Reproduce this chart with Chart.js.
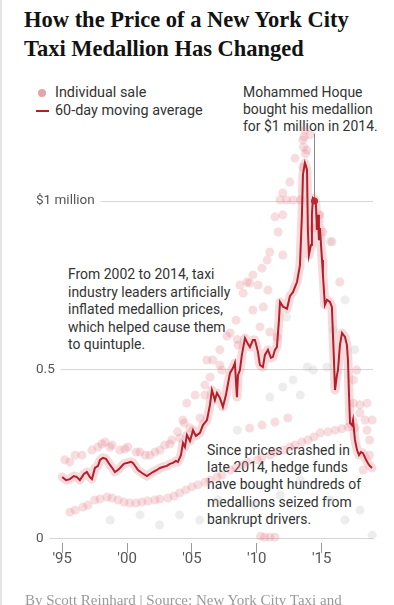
<!DOCTYPE html>
<html>
<head>
<meta charset="utf-8">
<script src="https://cdn.jsdelivr.net/npm/chart.js@4/dist/chart.umd.min.js"></script>
<style>
  html, body { margin: 0; padding: 0; background: #fff; }
  body { width: 394px; height: 605px; position: relative; overflow: hidden; }
  #chart { position: absolute; left: 0; top: 0; }
  .edge { position: absolute; left: 0; top: 0; width: 2px; height: 605px; background: #e4e4e4; }
  .title { position: absolute; left: 24px; top: 5px; font: bold 22.5px/29px "Liberation Serif", serif; color: #121212; white-space: nowrap; }
  .note { position: absolute; font: 15px/17px Roboto, sans-serif; color: #333; white-space: nowrap;
          transform: scaleX(0.93); transform-origin: left top;
          text-shadow: 0 0 3px #fff, 0 0 3px #fff, 0 0 2px #fff; }
  .legend { position: absolute; left: 36px; top: 84px; font: 15px/17.5px Roboto, sans-serif; color: #333; }
  .legend div { position: relative; padding-left: 19px; white-space: nowrap; }
  .legend span.txt { display: inline-block; transform: scaleX(0.96); transform-origin: left top; }
  .dot { position: absolute; left: 2px; top: 5px; width: 8px; height: 8px; border-radius: 50%; background: #e6a3ac; }
  .dash { position: absolute; left: 0; top: 8px; width: 13px; height: 2px; background: #b3202a; }
  .footer { position: absolute; left: 25px; top: 591px; font: 15px/18px "Liberation Serif", serif; color: #999; white-space: nowrap; }
</style>
</head>
<body>
<div class="edge"></div>
<div class="title">How the Price of a New York City<br>Taxi Medallion Has Changed</div>
<div class="legend">
  <div><span class="dot"></span><span class="txt">Individual sale</span></div>
  <div><span class="dash"></span><span class="txt">60-day moving average</span></div>
</div>
<div class="note" style="left:243px; top:84px;">Mohammed Hoque<br>bought his medallion<br>for $1 million in 2014.</div>
<div class="note" style="left:68px; top:266px; line-height:17.5px;">From 2002 to 2014, taxi<br>industry leaders artificially<br>inflated medallion prices,<br>which helped cause them<br>to quintuple.</div>
<div class="note" style="left:207px; top:442px; line-height:17.2px;">Since prices crashed in<br>late 2014, hedge funds<br>have bought hundreds of<br>medallions seized from<br>bankrupt drivers.</div>
<canvas id="chart" width="394" height="605"></canvas>
<div class="footer">By Scott Reinhard | Source: New York City Taxi and</div>

<script>
// Data (prices in $ millions)

// 60-day moving average
const avgYears = [
	1995.00, 1995.29, 1995.59, 1995.90, 1996.13, 1996.36, 1996.67, 1996.90, 1997.13, 1997.29,
	1997.52, 1997.76, 1997.91, 1998.14, 1998.37, 1998.68, 1998.91, 1999.06, 1999.29, 1999.45,
	1999.75, 1999.99, 2000.30, 2000.45, 2000.68, 2000.84, 2001.15, 2001.53, 2001.76, 2001.99,
	2002.30, 2002.53, 2002.76, 2003.07, 2003.30, 2003.53, 2003.76, 2003.92, 2004.15, 2004.31,
	2004.46, 2004.61, 2004.85, 2005.08, 2005.31, 2005.62, 2005.85, 2006.16, 2006.39, 2006.54,
	2006.77, 2006.93, 2007.16, 2007.39, 2007.62, 2007.93, 2008.16, 2008.31, 2008.39, 2008.47,
	2008.55, 2008.70, 2008.85, 2009.09, 2009.32, 2009.47, 2009.70, 2009.86, 2010.09, 2010.24,
	2010.47, 2010.63, 2010.86, 2011.09, 2011.24, 2011.40, 2011.55, 2011.71, 2011.79, 2012.02,
	2012.33, 2012.56, 2012.79, 2012.94, 2013.10, 2013.33, 2013.48, 2013.56, 2013.71, 2013.79,
	2013.87, 2013.94, 2014.02, 2014.18, 2014.25, 2014.33, 2014.48, 2014.56, 2014.64, 2014.72,
	2014.79, 2014.87, 2015.03, 2015.10, 2015.25, 2015.41, 2015.64, 2015.79, 2015.95, 2016.03,
	2016.18, 2016.26, 2016.41, 2016.57, 2016.80, 2016.95, 2017.03, 2017.11, 2017.19, 2017.34,
	2017.42, 2017.57, 2017.73, 2017.88, 2018.03, 2018.19, 2018.42, 2018.65, 2018.88
];
const avgValues = [
	0.182, 0.173, 0.176, 0.185, 0.182, 0.173, 0.191, 0.197, 0.182, 0.176,
	0.209, 0.215, 0.233, 0.239, 0.236, 0.218, 0.206, 0.197, 0.203, 0.209,
	0.221, 0.224, 0.227, 0.224, 0.212, 0.203, 0.194, 0.185, 0.191, 0.197,
	0.203, 0.209, 0.212, 0.215, 0.221, 0.224, 0.230, 0.227, 0.247, 0.283,
	0.271, 0.307, 0.289, 0.321, 0.304, 0.313, 0.336, 0.351, 0.396, 0.440,
	0.410, 0.431, 0.416, 0.390, 0.425, 0.490, 0.505, 0.520, 0.470, 0.419,
	0.484, 0.499, 0.544, 0.594, 0.576, 0.567, 0.588, 0.588, 0.553, 0.514,
	0.508, 0.544, 0.559, 0.535, 0.538, 0.559, 0.567, 0.647, 0.701, 0.687,
	0.681, 0.719, 0.730, 0.745, 0.760, 0.810, 0.959, 1.078, 1.113, 1.104,
	1.093, 0.914, 0.840, 0.870, 0.959, 1.009, 1.004, 0.988, 0.914, 0.959,
	0.884, 0.920, 0.825, 0.781, 0.692, 0.707, 0.701, 0.686, 0.529, 0.440,
	0.484, 0.499, 0.573, 0.609, 0.597, 0.573, 0.529, 0.425, 0.342, 0.336,
	0.351, 0.292, 0.262, 0.247, 0.256, 0.253, 0.233, 0.218, 0.209
];

// Individual sales
const saleYears = [
	// upper band, 1995-2005
	1995.2, 1995.59, 1996.0, 1996.52, 1997.29, 1997.75, 1998.06, 1998.3, 1998.68, 1998.85,
	1999.45, 1999.83, 2000.05, 2000.7, 2000.99, 2001.4, 2001.76, 2002.15, 2002.53, 2002.9,
	2003.30, 2003.45, 2003.9, 2004.07, 2004.4, 2004.84, 2005.62,
	// lower band
	1995.59, 1996.0, 1996.6, 1996.98, 1997.5, 1997.91, 1998.45, 1998.83, 1999.3, 1999.76,
	2000.2, 2000.68, 2001.15, 2001.61, 2002.15, 2002.53, 2003.15, 2003.61, 2004.05, 2004.53,
	2005.0, 2005.46, 2006.0, 2006.39, 2006.95, 2007.31, 2007.95, 2008.39, 2008.9, 2009.31,
	2010.05, 2010.39, 2011.05, 2011.47, 2012.05, 2012.55, 2012.95, 2013.48, 2013.95, 2014.41,
	2014.9, 2015.49, 2016.05, 2016.57, 2017.05, 2017.57,
	2009.45, 2010.4, 2011.4, 2012.4,
	// above the average, 2004-2016
	2004.6, 2004.3, 2005.25, 2006.0, 2006.0, 2006.4, 2006.6, 2006.15, 2007.15, 2007.15,
	2007.3, 2007.7, 2007.95, 2008.4, 2008.5, 2008.55, 2008.95, 2008.7, 2009.45, 2009.7,
	2010.1, 2009.25, 2009.7, 2010.4, 2010.8, 2010.86, 2011.0, 2011.65, 2011.4, 2012.0,
	2012.0, 2011.8, 2012.3, 2012.8, 2013.35, 2012.0, 2012.55, 2012.95, 2013.55, 2013.6,
	2013.65, 2013.7, 2013.75, 2013.85, 2013.55, 2014.1, 2014.85, 2015.1, 2015.8, 2016.4,
	2014.35, 2010.25, 2011.0, 2011.55, 2010.5,
	// after the crash
	2017.45, 2017.95, 2018.5, 2017.95, 2018.35, 2018.9, 2018.5, 2018.7, 2018.7, 2018.2,
	2017.7, 2017.45,
	// near zero
	2010.3, 2010.6, 2011.0, 2011.4
];
const saleValues = [
	0.233, 0.227, 0.247, 0.247, 0.262, 0.271, 0.280, 0.286, 0.271, 0.277,
	0.262, 0.265, 0.271, 0.256, 0.256, 0.247, 0.247, 0.256, 0.262, 0.277,
	0.280, 0.292, 0.316, 0.298, 0.342, 0.328, 0.357,
	0.078, 0.084, 0.093, 0.099, 0.114, 0.117, 0.123, 0.120, 0.114, 0.108,
	0.105, 0.105, 0.108, 0.111, 0.114, 0.117, 0.120, 0.126, 0.135, 0.144,
	0.153, 0.159, 0.167, 0.173, 0.182, 0.188, 0.203, 0.209, 0.218, 0.227,
	0.233, 0.239, 0.247, 0.256, 0.262, 0.271, 0.277, 0.286, 0.292, 0.301,
	0.313, 0.316, 0.321, 0.325, 0.330, 0.328,
	0.327, 0.336, 0.345, 0.357,
	0.401, 0.351, 0.425, 0.455, 0.425, 0.478, 0.529, 0.529, 0.559, 0.514,
	0.499, 0.600, 0.609, 0.647, 0.590, 0.573, 0.727, 0.751, 0.757, 0.677,
	0.751, 0.760, 0.781, 0.801, 0.825, 0.736, 0.849, 0.908, 0.953, 0.959,
	0.840, 1.003, 1.003, 1.003, 1.003, 1.024, 1.056, 1.127, 1.181, 1.160,
	1.190, 1.210, 1.140, 1.151, 1.100, 1.196, 0.959, 0.908, 0.879, 0.760,
	0.920, 0.627, 0.612, 0.597, 0.686,
	0.401, 0.396, 0.401, 0.372, 0.351, 0.351, 0.321, 0.292, 0.247, 0.203,
	0.499, 0.470,
	0.007, 0.004, 0.004, 0.004
];

// Fainter individual sales (grey)
const faintYears = [
	2013.9, 2014.35, 2015.4, 2012.8, 2012.0, 2011.0, 2012.3, 2015.9, 2016.8, 2017.55,
	2013.35, 2008.5, 2007.0, 2005.6, 2004.05, 2002.5, 2001.0, 1998.7, 2013.35, 2015.65,
	2016.8, 2017.95, 2018.9, 2007.9, 2009.85, 2011.8, 2015.65
];
const faintValues = [
	0.508, 0.499, 0.508, 0.470, 0.449, 0.419, 0.656, 0.618, 0.707, 0.559,
	0.425, 0.321, 0.114, 0.055, 0.070, 0.040, 0.070, 0.055, 0.173, 0.114,
	0.055, 0.084, 0.010, 0.055, 0.099, 0.129, 0.880
];

// Mohammed Hoque's sale and the leader to its note
const hoqueYear = 2014.45;
const hoqueValue = 1.0;
const hoqueNoteValue = 1.2;

// Axes
const tickYears = [1995, 2000, 2005, 2010, 2015];
const tickYearLabels = ["'95", "'00", "'05", "'10", "'15"];
const tickValues = [0, 0.5, 1];
const tickValueLabels = ["0", "0.5", "$1 million"];

function points(xs, ys) {
	return xs.map((x, i) => ({ x: x, y: ys[i] }));
}

const ctx = document.getElementById("chart").getContext("2d");

new Chart(ctx, {
	type: "scatter",
	data: {
		datasets: [
			{
				// Hoque sale
				data: [{ x: hoqueYear, y: hoqueValue }],
				pointRadius: 3.5,
				pointBackgroundColor: "#c0262d",
				pointBorderWidth: 0,
				order: 0,
				clip: false,
			},
			{
				// leader line
				data: [{ x: hoqueYear, y: hoqueValue }, { x: hoqueYear, y: hoqueNoteValue }],
				showLine: true,
				borderColor: "#8a8a8a",
				borderWidth: 1,
				pointRadius: 0,
				order: 1,
				clip: false,
			},
			{
				// moving average
				data: points(avgYears, avgValues),
				showLine: true,
				borderColor: "#b3202a",
				borderWidth: 2,
				pointRadius: 0,
				order: 2,
				clip: false,
			},
			{
				data: points(saleYears, saleValues),
				pointRadius: 4.5,
				pointBackgroundColor: "rgba(226, 122, 134, 0.26)",
				pointBorderWidth: 0,
				order: 3,
				clip: false,
			},
			{
				data: points(faintYears, faintValues),
				pointRadius: 4.5,
				pointBackgroundColor: "rgba(190, 190, 190, 0.28)",
				pointBorderWidth: 0,
				order: 4,
				clip: false,
			},
			{
				// band of dense sales around the average
				data: points(avgYears, avgValues),
				showLine: true,
				borderColor: "rgba(232, 140, 146, 0.32)",
				borderWidth: 9,
				borderCapStyle: "round",
				borderJoinStyle: "round",
				pointRadius: 0,
				order: 5,
				clip: false,
			},
		],
	},
	options: {
		responsive: false,
		animation: false,
		events: [],
		layout: {
			padding: { left: 35, right: 21, top: 120, bottom: 32 },
		},
		scales: {
			x: {
				type: "linear",
				min: 1992.9,
				max: 2018.96,
				afterBuildTicks: function (s) {
					s.ticks = tickYears.map((v) => ({ value: v }));
				},
				afterFit: function (s) {
					s.height = 30;
				},
				border: { display: false },
				grid: {
					drawOnChartArea: false,
					drawTicks: true,
					tickLength: 10,
					color: "#9a9a9a",
				},
				ticks: {
					padding: -3,
					color: "#555",
					font: { family: "Roboto", size: 15 },
					maxRotation: 0,
					callback: function (value) {
						return tickYearLabels[tickYears.indexOf(value)];
					},
				},
			},
			y: {
				min: -0.0133,
				max: 1.24,
				afterBuildTicks: function (s) {
					s.ticks = tickValues.map((v) => ({ value: v }));
				},
				afterFit: function (s) {
					s.width = 0;
				},
				border: { display: false },
				grid: {
					drawTicks: false,
					color: "#d6d6d6",
					lineWidth: 1,
				},
				ticks: {
					mirror: true,
					padding: 1,
					color: "#555",
					font: { family: "Roboto", size: 13.5 },
					showLabelBackdrop: true,
					backdropColor: "#fff",
					backdropPadding: { top: 2, bottom: 2, left: 2, right: 6 },
					callback: function (value) {
						return tickValueLabels[tickValues.indexOf(value)];
					},
				},
			},
		},
		plugins: {
			legend: { display: false },
			tooltip: { enabled: false },
			title: { display: false },
		},
	},
});
</script>
</body>
</html>
